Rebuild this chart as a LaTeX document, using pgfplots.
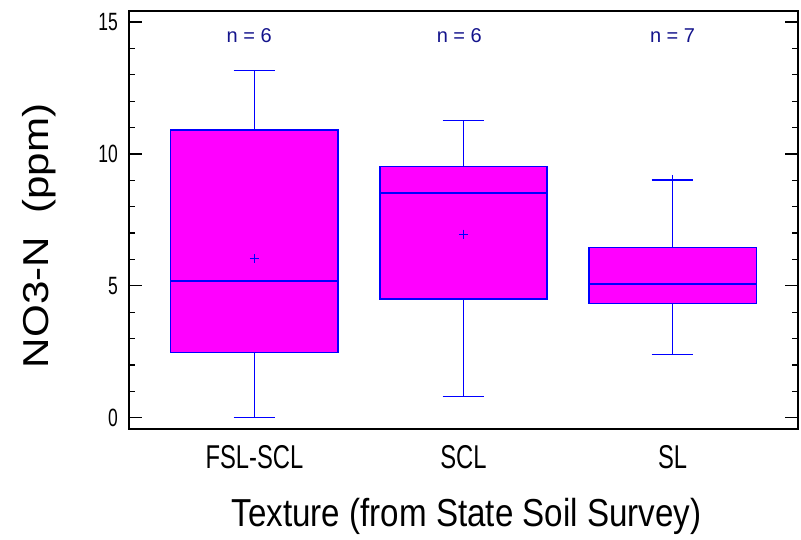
\documentclass[border=0pt]{standalone}
\usepackage{fontspec}
\setmainfont{Liberation Sans}
\newfontfamily\tickfont[FakeStretch=0.70]{Liberation Sans}
\newfontfamily\xtfont[FakeStretch=0.72]{Liberation Sans}
\newfontfamily\xlfont[FakeStretch=0.85]{Liberation Sans}
\newfontfamily\ylfont[FakeStretch=1.17]{Liberation Sans}
\usepackage{pgfplots}
\pgfplotsset{compat=1.18}
\usepgfplotslibrary{statistics}
\definecolor{boxfill}{RGB}{255,0,255}
\definecolor{boxline}{RGB}{0,0,255}
\definecolor{nlab}{RGB}{20,20,140}
\begin{document}
\begin{tikzpicture}
\useasboundingbox (-129pt,-111pt) rectangle (672pt,429pt);
\begin{axis}[
  scale only axis, width=669pt, height=418pt,
  xmin=0.4, xmax=3.6, ymin=-0.43, ymax=15.42,
  xtick={1,2,3}, xticklabels={FSL-SCL,SCL,SL},
  every major x tick/.append style={draw=none},
  ytick={0,5,10,15}, minor y tick num=4,
  ytick pos=both, yticklabel pos=left,
  tick align=inside,
  major tick length=13pt, minor tick length=6.5pt,
  axis line style={line width=1.4pt},
  every tick/.append style={line width=1.3pt, black},
  /pgf/number format/assume math mode=true,
  yticklabel style={font=\tickfont\fontsize{25}{26}\selectfont, anchor=east, inner sep=0pt, xshift=-11pt},
  xticklabel style={font=\xtfont\fontsize{33}{34}\selectfont, anchor=base, inner sep=0pt, yshift=-40pt},
  xlabel={Texture (from State Soil Survey)},
  xlabel style={font=\xlfont\fontsize{39}{40}\selectfont, at={(axis description cs:0.5045,-0.2344)}, anchor=base, inner sep=0pt},
  ylabel={NO3-N\ \ (ppm)},
  ylabel style={font=\ylfont\fontsize{36}{37}\selectfont, at={(axis description cs:-0.1196,0.462)}, anchor=base, inner sep=0pt},
  boxplot/draw direction=y,
  boxplot/box extend=0.8,
  boxplot/whisker extend=0.2,
  boxplot/every box/.style={fill=boxfill, draw=boxline, line width=1.3pt},
  boxplot/every median/.style={draw=boxline, line width=1.8pt},
  boxplot/every whisker/.style={draw=boxline, line width=1.1pt},
  boxplot/every average/.style={/tikz/mark=+, /tikz/mark size=4.6pt, /tikz/mark options={draw=boxline, line width=0.9pt}},
]
\addplot[draw=boxline, line width=1.1pt, boxplot prepared={draw position=1,
  lower whisker=0, lower quartile=2.48, median=5.19, average=6.02,
  upper quartile=10.91, upper whisker=13.18}] coordinates {};
\addplot[draw=boxline, line width=1.1pt, boxplot prepared={draw position=2,
  lower whisker=0.80, lower quartile=4.50, median=8.53, average=6.96,
  upper quartile=9.53, upper whisker=11.28}] coordinates {};
\addplot[draw=boxline, line width=1.1pt, boxplot prepared={draw position=3,
  lower whisker=2.39, lower quartile=4.34, median=5.08, average=9.03,
  upper quartile=6.46, upper whisker=9.01}] coordinates {};
\node[font=\fontsize{20}{21}\selectfont, text=nlab] at (axis cs:0.975,14.47) {n = 6};
\node[font=\fontsize{20}{21}\selectfont, text=nlab] at (axis cs:1.98,14.47) {n = 6};
\node[font=\fontsize{20}{21}\selectfont, text=nlab] at (axis cs:3.0,14.47) {n = 7};
\end{axis}
\end{tikzpicture}
\end{document}
